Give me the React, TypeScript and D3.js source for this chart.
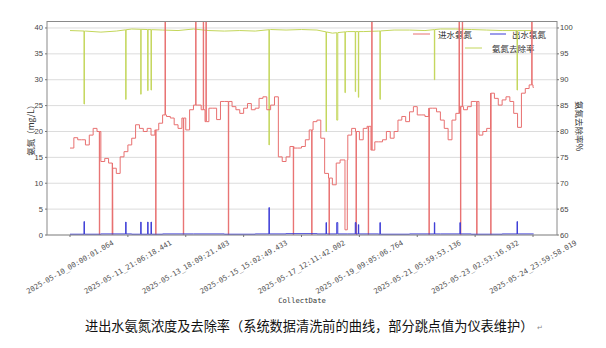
import React from 'react';
import * as d3 from 'd3';

// ---- data ----
const tickLabels = [
  '2025-05-10_00:00:01.064',
  '2025-05-11_21:06:18.441',
  '2025-05-13_18:09:21.483',
  '2025-05-15_15:02:49.433',
  '2025-05-17_12:11:42.002',
  '2025-05-19_09:05:06.764',
  '2025-05-21_05:59:53.136',
  '2025-05-23_02:53:16.932',
  '2025-05-24_23:59:58.019',
];
const tickHours = [0, 45, 90, 135, 180, 225, 270, 315, 360];
const totalHours = 360;

// inlet ammonia (mg/L), one value every 3 hours
const inletStep = 3;
const inletBase = [
  16.8, 18.8, 18.4, 18.4, 17.4, 19.3, 20.6, 20.0, 14.2, 14.8,
  13.9, 12.9, 11.9, 15.1, 16.1, 17.4, 18.7, 21.3, 20.6, 20.0,
  20.6, 19.3, 20.3, 21.6, 23.2, 22.9, 22.6, 21.3, 20.6, 22.6,
  20.3, 24.2, 25.1, 25.1, 24.2, 21.9, 24.5, 24.5, 22.3, 25.8,
  25.8, 25.8, 24.8, 24.2, 23.5, 24.5, 25.4, 24.2, 24.5, 26.4,
  26.7, 24.2, 25.1, 26.7, 15.1, 14.2, 15.1, 17.1, 16.8, 16.8,
  17.1, 18.4, 20.3, 21.9, 22.2, 18.7, 11.9, 11.0, 9.7, 13.9,
  14.5, 14.5, 19.3, 20.6, 20.0, 18.4, 20.6, 21.0, 16.4, 18.0,
  18.0, 18.4, 20.0, 18.7, 20.0, 22.2, 22.9, 21.9, 23.8, 24.8,
  23.2, 23.2, 22.9, 24.5, 24.5, 23.8, 22.2, 20.6, 18.4, 22.2,
  23.5, 24.8, 24.2, 24.8, 25.8, 25.8, 19.3, 20.0, 20.6, 27.4,
  26.4, 25.1, 26.1, 26.7, 25.8, 23.5, 20.8, 27.4, 28.3, 29.0,
  28.5,
];
// jump points [hour, value, duration h] (45 = off the top of the axis)
const inletSpikes: number[][] = [
  [22.8, 0], [32.9, 0], [66.6, 0], [73.9, 45], [88.1, 0], [97.7, 45],
  [103.6, 45], [105.7, 45], [123.1, 0], [173.6, 0], [187.9, 0], [201.4, 0],
  [213.8, 1.0, 1.8], [222.4, 0], [231.9, 0], [234.6, 45], [279.1, 0],
  [302.5, 45], [303.6, 0], [305.0, 45], [316.2, 0], [327.1, 0], [359.0, 45],
];

// outlet ammonia (mg/L), daily baseline
const outletStep = 24;
const outletBase = [0.15, 0.2, 0.15, 0.2, 0.2, 0.15, 0.2, 0.25, 0.2, 0.2, 0.15, 0.2, 0.2, 0.15, 0.2, 0.2];
const outletSpikes: number[][] = [
  [10.9, 2.6], [43.3, 2.5], [55.0, 2.5], [60.4, 2.5], [63.0, 2.5], [154.7, 5.3],
  [199.1, 2.4], [207.4, 2.4, 0.8], [221.8, 2.4, 0.6], [224.2, 2.0], [241.0, 2.4],
  [283.3, 2.4], [303.2, 2.4], [347.6, 2.6],
];

// removal rate (%), every 12 hours
const removalStep = 12;
const removalBase = [
  99.5, 99.4, 99.2, 99.4, 99.8, 99.7, 99.6, 99.5, 99.8, 99.5,
  99.4, 99.5, 99.4, 99.7, 99.6, 99.7, 99.6, 99.0, 99.3, 99.3,
  99.4, 99.6, 99.6, 99.5, 99.8, 99.8, 99.7, 99.6, 99.5, 99.5, 99.5,
];
const removalDrops: number[][] = [
  [10.9, 85.3], [43.3, 86.2], [55.0, 87.2], [60.4, 87.9], [63.0, 88.0],
  [154.7, 77.4], [199.1, 80.0], [207.4, 82.2, 0.8], [213.8, 87.5], [221.8, 87.7],
  [224.2, 86.6], [241.0, 86.2], [283.3, 90.0], [347.6, 88.0],
];

const leftTicks = [0, 5, 10, 15, 20, 25, 30, 35, 40];
const rightTicks = [60, 65, 70, 75, 80, 85, 90, 95, 100];

const seriesNames = ['进水氨氮', '出水氨氮', '氨氮去除率'];
const seriesColors = ['#e87070', '#3a3ad6', '#c3d65a'];
const caption = '进出水氨氮浓度及去除率（系统数据清洗前的曲线，部分跳点值为仪表维护）';

type P = { t: number; v: number };

function buildPoints(base: number[], step: number, spikes: number[][], stepwise: boolean, tEnd: number): P[] {
  const n = base.length;
  const baseAt = (t: number) => {
    if (stepwise) return base[Math.max(0, Math.min(n - 1, Math.floor(t / step)))];
    const i = Math.min(n - 2, Math.max(0, Math.floor(t / step)));
    const f = (t - i * step) / step;
    return base[i] * (1 - f) + base[i + 1] * f;
  };
  const pts: P[] = [];
  base.forEach((v, i) => {
    pts.push({ t: i * step, v });
    if (stepwise) pts.push({ t: Math.min((i + 1) * step, tEnd), v });
  });
  spikes.forEach((s) => {
    const t = s[0], v = s[1], d = s[2] ?? 0.3;
    pts.push({ t, v: baseAt(t) }, { t, v }, { t: t + d, v }, { t: t + d, v: baseAt(t + d) });
  });
  return pts.map((p, i) => ({ ...p, i })).sort((a, b) => a.t - b.t || a.i - b.i);
}

export default function App() {
  const W = 606, H = 348;
  const L = 47, R = 557, T = 21.5, B = 235;
  const x = d3.scaleLinear().domain([0, totalHours]).range([70, 533]);
  const yL = d3.scaleLinear().domain([0, 41.25]).range([B, T]);
  const yR = d3.scaleLinear().domain([60, 101.25]).range([B, T]);

  const lineL = d3.line<P>().x((d) => x(d.t)).y((d) => yL(d.v));
  const lineR = d3.line<P>().x((d) => x(d.t)).y((d) => yR(d.v));

  const inlet = buildPoints(inletBase, inletStep, inletSpikes, true, totalHours + 0.5);
  const outlet = buildPoints(outletBase, outletStep, outletSpikes, true, totalHours + 0.5);
  const removal = buildPoints(removalBase, removalStep, removalDrops, false, totalHours);

  const tickFont = 'Liberation Sans, Arial, sans-serif';
  const monoFont = 'DejaVu Sans Mono, monospace';
  const cjk = 'Noto Sans CJK SC, sans-serif';

  return (
    <svg width={W} height={H} style={{ position: 'absolute', left: 0, top: 0, background: '#fff' }}>
      <defs>
        <clipPath id="plotClip">
          <rect x={L} y={T} width={R - L} height={B - T} />
        </clipPath>
      </defs>
      <rect x={0} y={0} width={W} height={H} fill="#fff" />
      {/* grid */}
      {leftTicks.map((t) => (
        <line key={'g' + t} x1={L} x2={R} y1={yL(t)} y2={yL(t)} stroke="#dcdcdc" strokeWidth={1} />
      ))}
      {/* legend (drawn under the lines) */}
      <g fontFamily={cjk} fontSize={8.5} fill="#333">
        <line x1={413} x2={430} y1={34} y2={34} stroke={seriesColors[0]} strokeWidth={1} />
        <text x={438} y={34} dominantBaseline="central">{seriesNames[0]}</text>
        <line x1={490} x2={506} y1={34} y2={34} stroke={seriesColors[1]} strokeWidth={1} />
        <text x={512} y={34} dominantBaseline="central">{seriesNames[1]}</text>
        <line x1={465} x2={482} y1={48} y2={48} stroke={seriesColors[2]} strokeWidth={1} />
        <text x={492} y={48} dominantBaseline="central">{seriesNames[2]}</text>
      </g>
      <g clipPath="url(#plotClip)" fill="none">
        <path d={lineR(removal) || ''} stroke={seriesColors[2]} strokeWidth={1} />
        <path d={lineL(inlet) || ''} stroke={seriesColors[0]} strokeWidth={1} />
        <path d={lineL(outlet) || ''} stroke={seriesColors[1]} strokeWidth={1} />
      </g>
      {/* frame */}
      <rect x={L} y={T} width={R - L} height={B - T} fill="none" stroke="#8a8a8a" strokeWidth={1} />
      {/* left axis */}
      <g fontFamily={tickFont} fontSize={7.6} fill="#444">
        {leftTicks.map((t) => (
          <g key={'l' + t}>
            <line x1={L - 2} x2={L} y1={yL(t)} y2={yL(t)} stroke="#777" />
            <text x={L - 4} y={yL(t)} textAnchor="end" dominantBaseline="central">{t}</text>
          </g>
        ))}
        {rightTicks.map((t) => (
          <g key={'r' + t}>
            <line x1={R} x2={R + 2} y1={yR(t)} y2={yR(t)} stroke="#777" />
            <text x={R + 3} y={yR(t)} textAnchor="start" dominantBaseline="central">{t}</text>
          </g>
        ))}
      </g>
      <text transform={`translate(30,${(T + B) / 2}) rotate(-90)`} textAnchor="middle" dominantBaseline="central"
        fontFamily={cjk} fontSize={8.5} fill="#333">氨氮（mg/L）</text>
      <text transform={`translate(580,${(T + B) / 2 - 2}) rotate(90)`} textAnchor="middle" dominantBaseline="central"
        fontFamily={cjk} fontSize={8.5} fill="#333">氨氮去除率%</text>
      {/* x axis */}
      <g fontFamily={monoFont} fontSize={7.2} fill="#555">
        {tickHours.map((h, i) => (
          <g key={'x' + i}>
            <line x1={x(h)} x2={x(h)} y1={B} y2={B + 2} stroke="#777" />
            <text transform={`translate(${x(h)},267) rotate(-30)`} textAnchor="middle" dominantBaseline="central">
              {tickLabels[i]}
            </text>
          </g>
        ))}
        <text x={(L + R) / 2} y={300} textAnchor="middle" dominantBaseline="central" fill="#333">CollectDate</text>
      </g>
      {/* caption */}
      <text x={85} y={325} dominantBaseline="central" fontFamily={cjk} fontSize={13.2} fill="#111">{caption}</text>
      <text x={537} y={327} dominantBaseline="central" fontFamily={tickFont} fontSize={7} fill="#888">↵</text>
    </svg>
  );
}
